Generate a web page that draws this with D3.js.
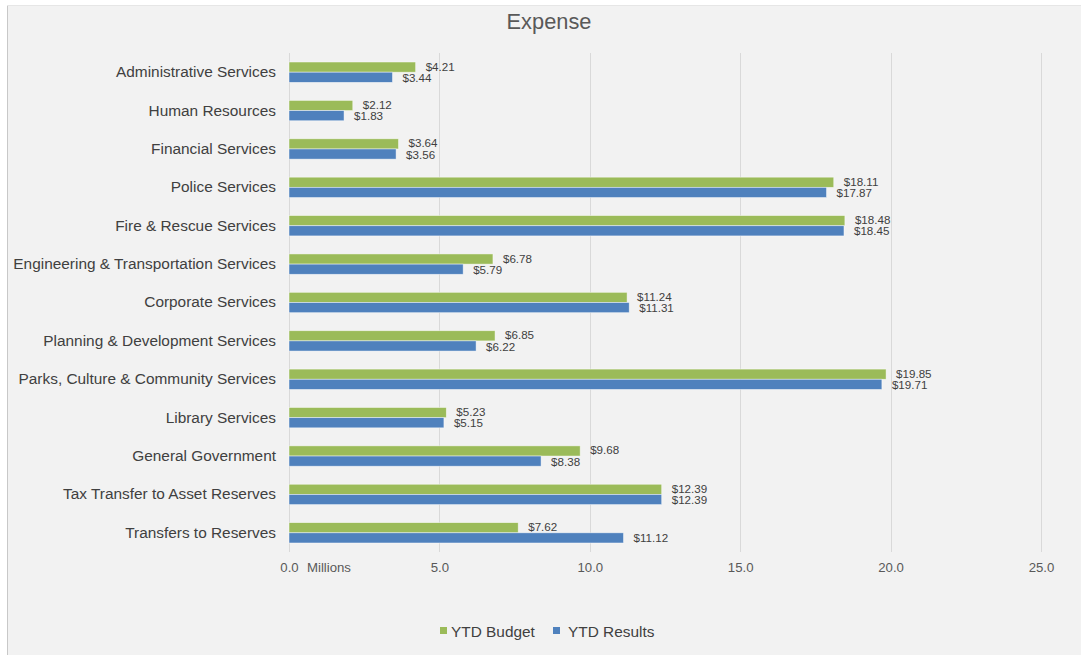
<!DOCTYPE html>
<html>
<head>
<meta charset="utf-8">
<script src="https://cdn.jsdelivr.net/npm/d3@7"></script>
<style>
  body { margin: 0; background: #ffffff; }
  svg { display: block; font-family: "Liberation Sans", Arial, sans-serif; }
</style>
</head>
<body>
<div id="chart"></div>
<script>
'use strict';

// Data (millions)
var categories = [
    "Administrative Services",
    "Human Resources",
    "Financial Services",
    "Police Services",
    "Fire & Rescue Services",
    "Engineering & Transportation Services",
    "Corporate Services",
    "Planning & Development Services",
    "Parks, Culture & Community Services",
    "Library Services",
    "General Government",
    "Tax Transfer to Asset Reserves",
    "Transfers to Reserves"
];
var ytdBudget = [4.21, 2.12, 3.64, 18.11, 18.48, 6.78, 11.24, 6.85, 19.85, 5.23, 9.68, 12.39, 7.62];
var ytdResults = [3.44, 1.83, 3.56, 17.87, 18.45, 5.79, 11.31, 6.22, 19.71, 5.15, 8.38, 12.39, 11.12];
var xTicks = [0, 5, 10, 15, 20, 25];
var seriesNames = ["YTD Budget", "YTD Results"];
var seriesColors = ["#9bbb59", "#4f81bd"];

var WIDTH = 1081, HEIGHT = 655;

var svg = d3.select("#chart").append("svg")
    .attr("width", WIDTH)
    .attr("height", HEIGHT);

// Chart frame
svg.append("rect")
    .attr("x", 7).attr("y", 5)
    .attr("width", WIDTH - 7).attr("height", HEIGHT - 5)
    .style("fill", "#f2f2f2");
svg.append("line")
    .attr("x1", 7.5).attr("x2", 7.5)
    .attr("y1", 5).attr("y2", HEIGHT)
    .style("stroke", "#c8c8c8")
    .style("stroke-width", 1);
svg.append("line")
    .attr("x1", 7).attr("x2", WIDTH)
    .attr("y1", 5.5).attr("y2", 5.5)
    .style("stroke", "#e6e6e6")
    .style("stroke-width", 1);

// Title
svg.append("text")
    .attr("x", 549).attr("y", 29)
    .attr("text-anchor", "middle")
    .attr("font-size", 21.8)
    .style("fill", "#595959")
    .text("Expense");

// Scales
var x = d3.scaleLinear().domain([0, 25]).range([289, 1041]);
var y = d3.scaleBand().domain(categories).range([53, 552]).paddingInner(0.47).paddingOuter(0.235);
var sub = d3.scaleBand().domain([0, 1]).range([0, y.bandwidth()]);

// Gridlines
svg.append("g").selectAll("line")
    .data(xTicks)
    .join("line")
    .attr("x1", function (d) { return Math.round(x(d)) + 0.5; })
    .attr("x2", function (d) { return Math.round(x(d)) + 0.5; })
    .attr("y1", 53).attr("y2", 552)
    .style("stroke", "#d9d9d9")
    .style("stroke-width", 1);

// X axis (tick labels only)
var xAxis = svg.append("g")
    .attr("transform", "translate(0,552)")
    .call(d3.axisBottom(x).tickValues(xTicks).tickFormat(d3.format(".1f")).tickSize(0).tickPadding(11));
xAxis.select(".domain").remove();
xAxis.selectAll("text")
    .attr("font-size", 13.2)
    .style("fill", "#595959")
    .style("font-family", "Liberation Sans, Arial, sans-serif");

svg.append("text")
    .attr("x", 307).attr("y", 572)
    .attr("font-size", 13.2)
    .style("fill", "#595959")
    .text("Millions");

// Y axis (category labels)
var yAxis = svg.append("g")
    .attr("transform", "translate(289,0)")
    .call(d3.axisLeft(y).tickSize(0).tickPadding(13));
yAxis.select(".domain").remove();
yAxis.selectAll("text")
    .attr("font-size", 15.4)
    .style("fill", "#404040")
    .style("font-family", "Liberation Sans, Arial, sans-serif");

// Bars and value labels
var series = [ytdBudget, ytdResults];
var labelShift = [-0.5, 0.6];   // nudge the two labels apart a bit
series.forEach(function (vals, s) {
    var g = svg.append("g");
    g.selectAll("rect")
        .data(vals)
        .join("rect")
        .attr("x", x(0))
        .attr("y", function (d, i) { return y(categories[i]) + sub(s); })
        .attr("width", function (d) { return x(d) - x(0); })
        .attr("height", sub.bandwidth())
        .style("fill", seriesColors[s])
        .style("stroke", "#ffffff")
        .style("stroke-opacity", 0.6)
        .style("stroke-width", 0.75);
    g.selectAll("text")
        .data(vals)
        .join("text")
        .attr("x", function (d) { return x(d) + 10; })
        .attr("y", function (d, i) { return y(categories[i]) + sub(s) + sub.bandwidth() / 2 + 4 + labelShift[s]; })
        .attr("font-size", 11.6)
        .style("fill", "#404040")
        .text(function (d) { return "$" + d3.format(".2f")(d); });
});

// Legend
var legendItems = [
    { name: seriesNames[0], color: seriesColors[0], sx: 440, tx: 451 },
    { name: seriesNames[1], color: seriesColors[1], sx: 553, tx: 568 }
];
var legend = svg.append("g");
legendItems.forEach(function (it) {
    legend.append("rect")
        .attr("x", it.sx).attr("y", 627)
        .attr("width", 7).attr("height", 7)
        .style("fill", it.color);
    legend.append("text")
        .attr("x", it.tx).attr("y", 636.5)
        .attr("font-size", 15.4)
        .style("fill", "#404040")
        .text(it.name);
});
</script>
</body>
</html>
